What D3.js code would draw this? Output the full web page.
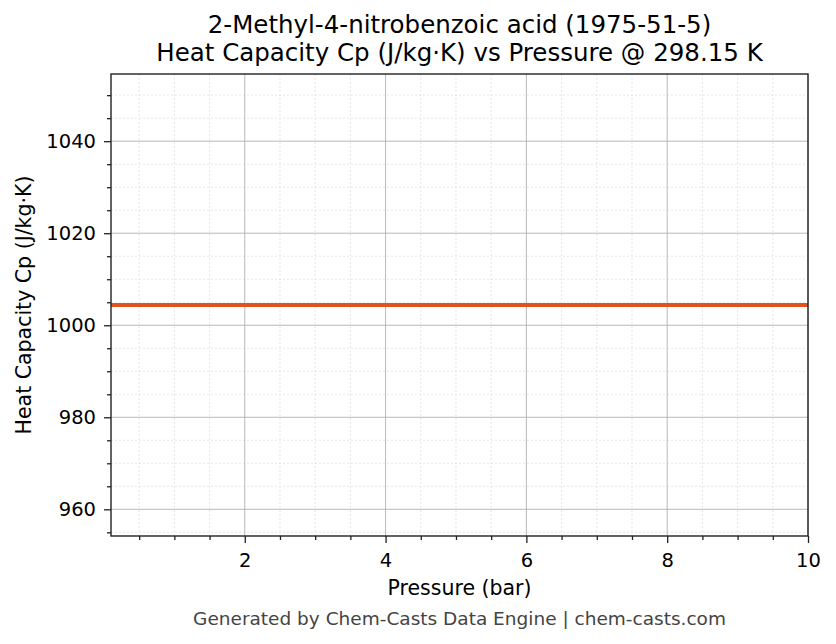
<!DOCTYPE html>
<html lang="en">
<head>
  <meta charset="UTF-8">
  <title>Heat Capacity vs Pressure</title>
  <script src="https://d3js.org/d3.v7.min.js"></script>
  <style>
    body { margin: 0; background: #fff; }
    svg { display: block; font-family: "DejaVu Sans", sans-serif; }
  </style>
</head>
<body>
  <svg id="chart"></svg>
  <script>
    // data
    const pressures = [0.1, 1, 2, 3, 4, 5, 6, 7, 8, 9, 10];
    const cpValues = [1004.4, 1004.4, 1004.4, 1004.4, 1004.4, 1004.4, 1004.4, 1004.4, 1004.4, 1004.4, 1004.4];
    const xTicks = [2, 4, 6, 8, 10];
    const yTicks = [960, 980, 1000, 1020, 1040];

    const width = 836, height = 644;
    const margin = { top: 74, right: 28, bottom: 108, left: 111 };

    const svg = d3.select('#chart')
      .attr('width', width)
      .attr('height', height);

    const x = d3.scaleLinear().domain([0.1, 10]).range([margin.left, width - margin.right]);
    const y = d3.scaleLinear().domain([954.2, 1054.6]).range([height - margin.bottom, margin.top]);

    const xMinor = d3.range(0.5, 10.01, 0.5).filter(v => !xTicks.includes(v));
    const yMinor = d3.range(955, 1055, 5).filter(v => !yTicks.includes(v));

    const g = svg.append('g');

    // minor grid
    g.selectAll('line.xminor').data(xMinor).enter().append('line')
      .attr('x1', d => x(d)).attr('x2', d => x(d))
      .attr('y1', margin.top).attr('y2', height - margin.bottom)
      .attr('stroke', '#ddd').attr('stroke-width', 0.7).attr('stroke-dasharray', '2,2');
    g.selectAll('line.yminor').data(yMinor).enter().append('line')
      .attr('y1', d => y(d)).attr('y2', d => y(d))
      .attr('x1', margin.left).attr('x2', width - margin.right)
      .attr('stroke', '#ddd').attr('stroke-width', 0.7).attr('stroke-dasharray', '2,2');

    // major grid
    g.selectAll('line.xmajor').data(xTicks).enter().append('line')
      .attr('x1', d => x(d)).attr('x2', d => x(d))
      .attr('y1', margin.top).attr('y2', height - margin.bottom)
      .attr('stroke', '#b0b0b0').attr('stroke-width', 0.9);
    g.selectAll('line.ymajor').data(yTicks).enter().append('line')
      .attr('y1', d => y(d)).attr('y2', d => y(d))
      .attr('x1', margin.left).attr('x2', width - margin.right)
      .attr('stroke', '#b0b0b0').attr('stroke-width', 0.9);

    // data line
    const line = d3.line().x((d, i) => x(pressures[i])).y(d => y(d));
    g.append('path')
      .datum(cpValues)
      .attr('d', line)
      .attr('fill', 'none')
      .attr('stroke', '#e0531f')
      .attr('stroke-width', 3.8);

    // axes
    const xAxis = d3.axisBottom(x).tickValues(xTicks).tickSize(7).tickPadding(10).tickFormat(d3.format('d'));
    const yAxis = d3.axisLeft(y).tickValues(yTicks).tickSize(7).tickPadding(8).tickFormat(d3.format('d'));
    const xMinorAxis = d3.axisBottom(x).tickValues(xMinor).tickSize(4).tickFormat('');
    const yMinorAxis = d3.axisLeft(y).tickValues(yMinor).tickSize(4).tickFormat('');

    [[xMinorAxis, 'b'], [xAxis, 'b'], [yMinorAxis, 'l'], [yAxis, 'l']].forEach(([ax, side]) => {
      const a = svg.append('g')
        .attr('transform', side === 'b' ? `translate(0,${height - margin.bottom})` : `translate(${margin.left},0)`)
        .call(ax);
      a.select('.domain').remove();
      a.selectAll('line').attr('stroke', '#222').attr('stroke-width', 1.3);
      a.selectAll('text').attr('fill', '#000').style('font-size', '19.5px').style('font-family', '"DejaVu Sans", sans-serif');
    });

    // frame
    svg.append('rect')
      .attr('x', margin.left).attr('y', margin.top)
      .attr('width', width - margin.left - margin.right)
      .attr('height', height - margin.top - margin.bottom)
      .attr('fill', 'none').attr('stroke', '#222').attr('stroke-width', 1.4);

    // titles
    const cx = (margin.left + width - margin.right) / 2;
    svg.append('text').attr('x', cx).attr('y', 33).attr('text-anchor', 'middle')
      .style('font-size', '24.5px').text('2-Methyl-4-nitrobenzoic acid (1975-51-5)');
    svg.append('text').attr('x', cx).attr('y', 61).attr('text-anchor', 'middle')
      .style('font-size', '24.5px').text('Heat Capacity Cp (J/kg·K) vs Pressure @ 298.15 K');

    svg.append('text').attr('x', cx).attr('y', 595).attr('text-anchor', 'middle')
      .style('font-size', '20.5px').text('Pressure (bar)');
    svg.append('text')
      .attr('transform', `translate(31,${(margin.top + height - margin.bottom) / 2}) rotate(-90)`)
      .attr('text-anchor', 'middle')
      .style('font-size', '20.5px').text('Heat Capacity Cp (J/kg·K)');

    svg.append('text').attr('x', cx).attr('y', 625).attr('text-anchor', 'middle')
      .attr('fill', '#444').style('font-size', '18.5px')
      .text('Generated by Chem-Casts Data Engine | chem-casts.com');
  </script>
</body>
</html>
